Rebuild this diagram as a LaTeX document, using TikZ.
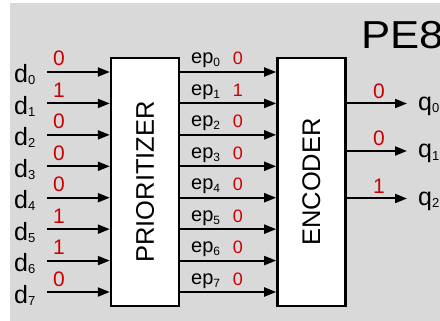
\documentclass[tikz,border=0pt]{standalone}
\usepackage{fontspec}
\setsansfont{Liberation Sans}
\usetikzlibrary{arrows.meta,positioning}
\definecolor{pebg}{HTML}{D9D9D9}
\definecolor{pered}{HTML}{CC0000}
\newcommand{\fsz}[1]{\fontsize{#1}{#1}\selectfont}
\newcommand{\subidx}[3]{\raisebox{-#1pt}{\fsz{#2}#3}}

\begin{document}
\begin{tikzpicture}[
 x=1pt,y=-1pt,>={Triangle[length=12pt,width=9pt]},font=\sffamily,
 blk/.style={draw,line width=2.4pt,fill=white,minimum width=68pt,
   minimum height=248pt,inner sep=0pt,font=\sffamily\fsz{25.5}},
 sig/.style={->,line width=2pt},
 val/.style={text=pered,inner sep=0pt,anchor=base},
 lbl/.style={inner sep=0pt,anchor=base west}
]
\useasboundingbox (0,0) rectangle (440,321);
\clip (0,0) rectangle (440,321);
\fill[pebg] (10,3) rectangle (440,321);
\node[blk] (prio) at (145,182) {\rotatebox{90}{PRIORITIZER}};
\node[blk,right=96pt of prio] (enc) {\rotatebox{90}{ENCODER}};
\node[lbl,font=\sffamily\fsz{39},xscale=1.12] (title) at (361,49) {PE8};
% inputs and prioritized lines
\foreach \i/\v/\e in {0/0/0,1/1/1,2/0/0,3/0/0,4/0/0,5/1/0,6/1/0,7/0/0}{
  \coordinate (din\i) at (47,72+\i*31.43);
  \node[lbl,font=\sffamily\fsz{25}] (dlbl\i) at (14,83+\i*31.43)
    {d\subidx{2}{13}{\i}};
  \node[val,font=\sffamily\fsz{21}] (dval\i) at (59,66+\i*31.43) {\v};
  \draw[sig] (din\i) -- (prio.west |- din\i);
  \node[lbl,font=\sffamily\fsz{20}] (eplbl\i) at (191,64+\i*31.43)
    {ep\subidx{3}{12}{\i}};
  \node[val,font=\sffamily\fsz{18}] (epval\i) at (238,65+\i*31.43) {\e};
  \draw[sig] (prio.east |- din\i) -- (enc.west |- din\i);
}
% outputs
\foreach \j/\y/\v in {0/103.5/0,1/151/0,2/198.5/1}{
  \coordinate (qout\j) at (407,\y);
  \draw[sig] (enc.east |- qout\j) -- (qout\j);
  \node[val,font=\sffamily\fsz{21}] (qval\j) at (379,\y-5) {\v};
  \node[lbl,font=\sffamily\fsz{25}] (qlbl\j) at (418,\y+7)
    {q\subidx{2}{13}{\j}};
}
\end{tikzpicture}
\end{document}
